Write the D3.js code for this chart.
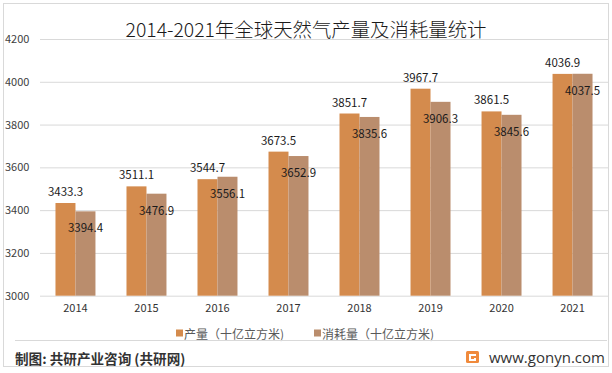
<html>
<head>
<meta charset="utf-8">
<style>
  body { margin: 0; background: #fff; font-family: "Noto Sans CJK SC", "Noto Sans", sans-serif; }
  svg { display: block; }
</style>
<script src="https://cdn.jsdelivr.net/npm/d3@7"></script>
</head>
<body>
<svg id="chart"></svg>
<script>
// chart data
let years = ["2014", "2015", "2016", "2017", "2018", "2019", "2020", "2021"]
let production = [3433.3, 3511.1, 3544.7, 3673.5, 3851.7, 3967.7, 3861.5, 4036.9]
let consumption = [3394.4, 3476.9, 3556.1, 3652.9, 3835.6, 3906.3, 3845.6, 4037.5]
let seriesNames = ["产量（十亿立方米)", "消耗量（十亿立方米)"]
let yTicks = [3000, 3200, 3400, 3600, 3800, 4000, 4200]

let colors = ["#D48B4D", "#BA8D6D"]
let width = 612, height = 373
let margin = { top: 39, left: 40, right: 4, bottom: 77 }

let svg = d3.select("#chart").attr("width", width).attr("height", height)

// outer frame
svg.append("rect")
  .attr("x", 3.5).attr("y", 3.5).attr("width", 605).attr("height", 363)
  .attr("fill", "none").attr("stroke", "#d9d9d9")

let xScale = d3.scaleBand()
  .domain(years)
  .range([margin.left, width - margin.right])
  .paddingInner(0.437)
  .paddingOuter(0.218)

let xSub = d3.scaleBand().domain([0, 1]).range([0, xScale.bandwidth()])

let yScale = d3.scaleLinear()
  .domain([3000, 4200])
  .range([295.7, margin.top])

// gridlines + y labels
let yAxis = d3.axisLeft(yScale)
  .tickValues(yTicks)
  .tickSize(-(width - margin.right - margin.left))
  .tickFormat(d3.format("d"))

let gy = svg.append("g")
  .attr("transform", `translate(${margin.left},0)`)
  .call(yAxis)
gy.select(".domain").remove()
gy.selectAll(".tick line").attr("stroke", "#d9d9d9")
gy.selectAll(".tick text")
  .attr("x", -35).attr("text-anchor", "start")
  .attr("fill", "#404040").style("font-size", "11px")
  .style("font-family", "'Noto Sans CJK SC', sans-serif")

// x labels
let xAxis = d3.axisBottom(xScale).tickSize(0)
let gx = svg.append("g")
  .attr("transform", `translate(0,${yScale(3000)})`)
  .call(xAxis)
gx.select(".domain").remove()
gx.selectAll(".tick text")
  .attr("dy", "1.25em")
  .attr("fill", "#333").style("font-size", "11px")
  .style("font-family", "'Noto Sans CJK SC', sans-serif")

// bars
let rows = years.map((y, i) => ({ year: y, vals: [production[i], consumption[i]] }))

let groups = svg.append("g").selectAll("g").data(rows).enter().append("g")
  .attr("transform", d => `translate(${xScale(d.year)},0)`)

groups.selectAll("rect").data(d => d.vals.map((v, k) => ({ v, k }))).enter().append("rect")
  .attr("x", d => xSub(d.k))
  .attr("width", xSub.bandwidth())
  .attr("y", d => yScale(d.v))
  .attr("height", d => yScale(3000) - yScale(d.v))
  .attr("fill", d => colors[d.k])

groups.selectAll("text").data(d => d.vals.map((v, k) => ({ v, k }))).enter().append("text")
  .attr("x", d => xSub(d.k) + xSub.bandwidth() / 2)
  .attr("y", d => d.k === 0 ? yScale(d.v) - 12 : yScale(d.v) + 16)
  .attr("dominant-baseline", "central")
  .attr("text-anchor", "middle")
  .attr("fill", "#1a1a1a")
  .style("font-size", "11.5px")
  .text(d => d3.format(".1f")(d.v))

// title
svg.append("text")
  .attr("x", 306).attr("y", 37)
  .attr("text-anchor", "middle")
  .attr("fill", "#1a1a1a")
  .style("font-size", "19.4px")
  .style("font-weight", "300")
  .text("2014-2021年全球天然气产量及消耗量统计")

// legend
let legendX = [176, 314]
let legend = svg.append("g").selectAll("g").data(seriesNames).enter().append("g")
  .attr("transform", (d, i) => `translate(${legendX[i]},333)`)
legend.append("rect")
  .attr("x", 0).attr("y", -3.5).attr("width", 7).attr("height", 7)
  .attr("fill", (d, i) => colors[i])
legend.append("text")
  .attr("x", 8).attr("dominant-baseline", "central")
  .attr("fill", "#595959").style("font-size", "12px")
  .text(d => d)

// footer
svg.append("line")
  .attr("x1", 15).attr("x2", 607).attr("y1", 340.5).attr("y2", 340.5)
  .attr("stroke", "#d9d9d9")

svg.append("text")
  .attr("x", 15).attr("y", 358).attr("dominant-baseline", "central")
  .attr("fill", "#333").style("font-size", "13.6px").style("font-weight", "bold")
  .text("制图: 共研产业咨询 (共研网)")

// logo
let logo = svg.append("g").attr("transform", "translate(466,351)")
logo.append("rect").attr("width", 13).attr("height", 12).attr("rx", 1.5).attr("fill", "#F08A3C")
logo.append("path").attr("d", "M3,3 H10 V5 H5 V8 H8 V7 H10 V10 H3 Z").attr("fill", "#fff")

svg.append("text")
  .attr("x", 489).attr("y", 357).attr("dominant-baseline", "central")
  .attr("fill", "#333").style("font-size", "15px")
  .style("font-family", "'Open Sans', 'Noto Sans', sans-serif")
  .text("www.gonyn.com")
</script>
</body>
</html>
